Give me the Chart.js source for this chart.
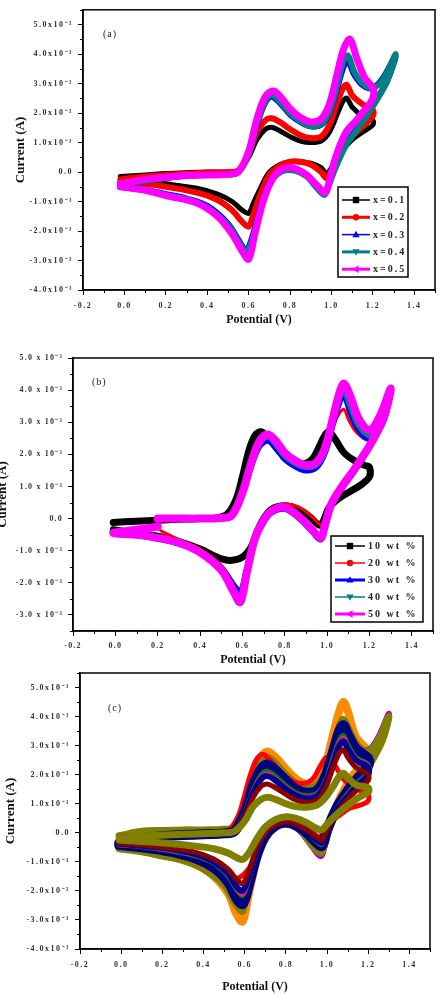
<!DOCTYPE html>
<html><head><meta charset="utf-8">
<script src="https://cdn.jsdelivr.net/npm/chart.js@4.4.1/dist/chart.umd.min.js"></script>
<style>
html,body{margin:0;padding:0;background:#fff;width:440px;height:994px;overflow:hidden;position:relative}
canvas{position:absolute;left:0}
</style></head><body>
<canvas id="ca" width="440" height="330" style="top:0px"></canvas>
<canvas id="cb" width="440" height="340" style="top:330px"></canvas>
<canvas id="cc" width="440" height="334" style="top:660px"></canvas>
<script>
// ---------- DATA (current in units of 1e-3 A, potential in V) ----------
// Panel (a)
const legendA = ['x=0.1', 'x=0.2', 'x=0.3', 'x=0.4', 'x=0.5'];
const potA_short = [-0.02, 0.1, 0.2, 0.3, 0.4, 0.5, 0.55, 0.6, 0.64, 0.68, 0.71, 0.75, 0.8, 0.85, 0.9, 0.95, 0.99, 1.03, 1.06, 1.075, 1.1, 1.15, 1.2,
  1.2, 1.15, 1.1, 1.05, 1.0, 0.975, 0.95, 0.9, 0.85, 0.8, 0.75, 0.7, 0.66, 0.62, 0.6, 0.57, 0.52, 0.45, 0.35, 0.2, 0.1, -0.02];
const potA_long = [-0.02, 0.1, 0.2, 0.3, 0.4, 0.5, 0.55, 0.6, 0.64, 0.68, 0.71, 0.75, 0.8, 0.85, 0.9, 0.95, 0.99, 1.03, 1.06, 1.08, 1.11, 1.15, 1.2, 1.25, 1.31,
  1.27, 1.22, 1.17, 1.12, 1.07, 1.02, 0.985, 0.965, 0.93, 0.88, 0.82, 0.76, 0.71, 0.67, 0.63, 0.6, 0.585, 0.56, 0.5, 0.4, 0.3, 0.2, 0.1, -0.02];
const potA_mag = [-0.02, 0.1, 0.2, 0.3, 0.4, 0.5, 0.55, 0.6, 0.64, 0.68, 0.72, 0.76, 0.8, 0.85, 0.9, 0.95, 0.99, 1.03, 1.06, 1.09, 1.12, 1.16, 1.2,
  1.2, 1.16, 1.12, 1.07, 1.02, 0.99, 0.97, 0.93, 0.87, 0.8, 0.75, 0.71, 0.67, 0.63, 0.6, 0.57, 0.52, 0.45, 0.35, 0.2, 0.1, -0.02];
const curA_x01 = [-0.15, -0.1, -0.05, -0.02, 0.0, 0.0, 0.05, 0.5, 1.1, 1.45, 1.52, 1.4, 1.2, 1.05, 1.0, 1.05, 1.35, 2.0, 2.45, 2.5, 2.2, 1.9, 1.75,
  1.6, 1.35, 1.1, 0.7, 0.15, -0.05, 0.15, 0.3, 0.35, 0.35, 0.25, 0.0, -0.5, -1.1, -1.4, -1.3, -1.0, -0.75, -0.55, -0.4, -0.33, -0.3];
const curA_x02 = [-0.25, -0.15, -0.1, -0.05, -0.02, 0.0, 0.05, 0.6, 1.35, 1.75, 1.82, 1.7, 1.45, 1.25, 1.15, 1.2, 1.6, 2.4, 2.9, 2.95, 2.6, 2.3, 2.1,
  1.9, 1.55, 1.2, 0.75, 0.05, -0.2, 0.0, 0.25, 0.35, 0.35, 0.2, -0.1, -0.7, -1.5, -1.85, -1.7, -1.3, -0.95, -0.7, -0.5, -0.4, -0.35];
const curA_x03 = [-0.45, -0.3, -0.2, -0.12, -0.1, -0.08, 0.0, 0.6, 1.6, 2.35, 2.55, 2.35, 1.95, 1.7, 1.55, 1.6, 2.0, 2.9, 3.6, 3.75, 3.3, 2.95, 2.85, 3.2, 3.95,
  3.1, 2.5, 1.95, 1.45, 0.95, 0.2, -0.45, -0.75, -0.5, -0.1, 0.08, 0.05, -0.25, -0.9, -1.9, -2.55, -2.65, -2.4, -1.75, -1.15, -0.9, -0.75, -0.6, -0.5];
const curA_x04 = [-0.45, -0.3, -0.2, -0.12, -0.1, -0.08, 0.0, 0.6, 1.65, 2.4, 2.6, 2.4, 2.0, 1.72, 1.55, 1.62, 2.05, 3.0, 3.8, 3.95, 3.4, 3.0, 2.85, 3.15, 4.0,
  3.1, 2.45, 1.9, 1.4, 0.9, 0.15, -0.5, -0.78, -0.55, -0.15, 0.05, 0.02, -0.3, -0.95, -2.0, -2.6, -2.7, -2.45, -1.8, -1.2, -0.92, -0.78, -0.62, -0.5];
const curA_x05 = [-0.4, -0.25, -0.18, -0.12, -0.1, -0.08, 0.0, 0.7, 1.8, 2.55, 2.75, 2.5, 2.15, 1.85, 1.7, 1.8, 2.3, 3.4, 4.2, 4.5, 3.9, 3.2, 2.85,
  2.5, 2.1, 1.75, 1.35, 0.5, -0.3, -0.7, -0.45, -0.05, 0.15, 0.05, -0.3, -1.0, -2.1, -2.95, -2.7, -2.1, -1.5, -1.05, -0.8, -0.62, -0.5];

// Panel (b)
const legendB = ['10 wt %', '20 wt %', '30 wt %', '40 wt %', '50 wt %'];
const potB_10 = [-0.01, 0.1, 0.2, 0.3, 0.4, 0.48, 0.53, 0.57, 0.6, 0.63, 0.66, 0.69, 0.73, 0.78, 0.84, 0.89, 0.93, 0.96, 0.99, 1.01, 1.04, 1.08, 1.13, 1.18, 1.2,
  1.2, 1.16, 1.11, 1.06, 1.01, 0.98, 0.96, 0.92, 0.86, 0.8, 0.74, 0.7, 0.67, 0.64, 0.6, 0.55, 0.5, 0.4, 0.3, 0.2, 0.1, -0.01];
const potB_20 = [0.2, 0.3, 0.4, 0.5, 0.55, 0.6, 0.64, 0.68, 0.72, 0.76, 0.8, 0.85, 0.9, 0.95, 0.99, 1.03, 1.06, 1.08, 1.1, 1.13, 1.17, 1.2,
  1.2, 1.16, 1.11, 1.06, 1.01, 0.99, 0.97, 0.93, 0.87, 0.8, 0.74, 0.7, 0.66, 0.62, 0.59, 0.56, 0.5, 0.4, 0.3, 0.22, 0.2];
const potB_long = [0.2, 0.3, 0.4, 0.5, 0.55, 0.6, 0.64, 0.68, 0.72, 0.76, 0.8, 0.85, 0.9, 0.95, 0.99, 1.03, 1.06, 1.08, 1.11, 1.15, 1.2, 1.25, 1.3,
  1.27, 1.22, 1.17, 1.12, 1.07, 1.02, 0.99, 0.97, 0.93, 0.87, 0.8, 0.74, 0.7, 0.66, 0.62, 0.59, 0.56, 0.5, 0.4, 0.3, 0.2, 0.1, -0.01, 0.1, 0.2];
const curB_10 = [-0.12, -0.08, -0.05, -0.02, 0.0, 0.02, 0.15, 0.6, 1.3, 2.1, 2.6, 2.7, 2.45, 2.05, 1.75, 1.7, 1.85, 2.2, 2.6, 2.7, 2.45, 2.05, 1.8, 1.65, 1.6,
  1.3, 1.05, 0.85, 0.65, 0.35, -0.1, -0.2, 0.05, 0.3, 0.4, 0.3, 0.0, -0.4, -0.9, -1.2, -1.3, -1.25, -0.95, -0.72, -0.55, -0.45, -0.35];
const curB_20 = [-0.05, -0.02, 0.0, 0.02, 0.1, 0.9, 1.8, 2.45, 2.6, 2.35, 2.0, 1.75, 1.62, 1.7, 2.1, 2.9, 3.3, 3.4, 3.1, 2.75, 2.5, 2.4,
  2.3, 1.9, 1.4, 1.0, 0.4, -0.05, -0.2, 0.05, 0.35, 0.45, 0.3, 0.0, -0.6, -1.6, -2.2, -2.0, -1.45, -0.95, -0.65, -0.4, -0.3];
const curB_30 = [0.0, 0.0, 0.0, 0.02, 0.1, 0.8, 1.6, 2.25, 2.42, 2.2, 1.85, 1.62, 1.5, 1.6, 2.05, 3.0, 3.65, 3.85, 3.3, 2.75, 2.5, 3.0, 3.95,
  3.1, 2.45, 1.9, 1.4, 0.95, 0.4, -0.25, -0.65, -0.4, 0.0, 0.3, 0.2, -0.1, -0.65, -1.6, -2.3, -2.1, -1.55, -1.05, -0.78, -0.62, -0.52, -0.45, -0.35, -0.25];
const curB_40 = [0.0, 0.0, 0.0, 0.02, 0.1, 0.8, 1.65, 2.35, 2.55, 2.3, 1.95, 1.72, 1.6, 1.68, 2.1, 3.1, 3.8, 4.0, 3.5, 2.9, 2.6, 3.1, 4.0,
  3.15, 2.5, 1.92, 1.42, 0.98, 0.42, -0.22, -0.65, -0.38, 0.02, 0.32, 0.22, -0.08, -0.62, -1.65, -2.5, -2.2, -1.6, -1.05, -0.76, -0.62, -0.52, -0.46, -0.35, -0.25];
const curB_50 = [0.0, 0.0, 0.0, 0.02, 0.1, 0.8, 1.7, 2.4, 2.62, 2.4, 2.05, 1.8, 1.66, 1.75, 2.2, 3.2, 3.95, 4.2, 3.8, 3.1, 2.75, 3.2, 4.05,
  3.2, 2.5, 1.95, 1.45, 1.0, 0.45, -0.2, -0.6, -0.35, 0.05, 0.35, 0.25, -0.05, -0.6, -1.7, -2.6, -2.3, -1.6, -1.05, -0.75, -0.6, -0.5, -0.45, -0.35, -0.25];

// Panel (c)
const potC_short = [-0.01, 0.1, 0.2, 0.3, 0.4, 0.5, 0.55, 0.6, 0.64, 0.68, 0.71, 0.75, 0.8, 0.85, 0.9, 0.95, 0.99, 1.03, 1.06, 1.08, 1.1, 1.14, 1.2,
  1.2, 1.15, 1.1, 1.05, 1.0, 0.975, 0.95, 0.9, 0.85, 0.8, 0.75, 0.7, 0.66, 0.62, 0.59, 0.56, 0.52, 0.45, 0.35, 0.2, 0.1, -0.01];
const potC_long = [-0.01, 0.1, 0.2, 0.3, 0.4, 0.5, 0.55, 0.6, 0.64, 0.68, 0.71, 0.75, 0.8, 0.85, 0.9, 0.95, 0.99, 1.03, 1.06, 1.08, 1.11, 1.15, 1.2, 1.25, 1.3,
  1.27, 1.22, 1.17, 1.12, 1.07, 1.02, 0.99, 0.97, 0.93, 0.87, 0.8, 0.74, 0.7, 0.66, 0.62, 0.59, 0.56, 0.5, 0.4, 0.3, 0.2, 0.1, -0.01];
const potC_early = [-0.01, 0.1, 0.2, 0.3, 0.4, 0.48, 0.53, 0.57, 0.6, 0.63, 0.66, 0.69, 0.73, 0.78, 0.84, 0.89, 0.93, 0.96, 0.99, 1.01, 1.04, 1.08, 1.13, 1.18, 1.2,
  1.2, 1.16, 1.11, 1.06, 1.01, 0.98, 0.96, 0.92, 0.86, 0.8, 0.74, 0.7, 0.67, 0.64, 0.6, 0.55, 0.5, 0.4, 0.3, 0.2, 0.1, -0.01];
const curC_orange = [-0.35, -0.2, -0.12, -0.08, -0.05, 0.0, 0.1, 0.8, 1.9, 2.6, 2.8, 2.6, 2.2, 1.85, 1.68, 1.8, 2.3, 3.4, 4.2, 4.5, 4.2, 3.3, 2.8,
  2.5, 2.2, 1.7, 1.0, 0.0, -0.6, -0.5, -0.1, 0.2, 0.3, 0.2, -0.2, -0.9, -2.1, -3.05, -2.8, -2.1, -1.5, -1.05, -0.75, -0.6, -0.5];
const curC_purple = [-0.45, -0.3, -0.2, -0.12, -0.1, -0.05, 0.05, 0.7, 1.65, 2.35, 2.55, 2.35, 1.95, 1.68, 1.52, 1.62, 2.05, 2.95, 3.6, 3.8, 3.45, 3.0, 2.85, 3.3, 4.1,
  3.3, 2.6, 2.0, 1.5, 1.0, 0.3, -0.4, -0.8, -0.5, 0.05, 0.4, 0.3, -0.05, -0.65, -1.7, -2.6, -2.4, -1.75, -1.2, -0.92, -0.78, -0.62, -0.52];
const curC_olive1 = [-0.1, 0.05, 0.08, 0.1, 0.1, 0.12, 0.2, 0.9, 1.75, 2.4, 2.6, 2.4, 2.0, 1.7, 1.55, 1.65, 2.1, 3.0, 3.7, 3.9, 3.5, 3.0, 2.8, 3.2, 4.0,
  3.2, 2.5, 1.95, 1.45, 0.95, 0.3, -0.35, -0.7, -0.45, 0.1, 0.45, 0.35, 0.0, -0.6, -1.7, -2.7, -2.5, -1.8, -1.25, -0.95, -0.8, -0.65, -0.55];
const curC_red = [-0.15, -0.1, -0.06, -0.03, 0.0, 0.03, 0.15, 0.6, 1.3, 2.05, 2.55, 2.7, 2.45, 2.05, 1.75, 1.7, 1.85, 2.2, 2.55, 2.6, 2.3, 1.85, 1.55, 1.4, 1.35,
  1.1, 0.95, 0.85, 0.6, 0.35, 0.0, -0.15, 0.1, 0.35, 0.42, 0.3, 0.0, -0.45, -1.0, -1.4, -1.6, -1.5, -1.1, -0.8, -0.6, -0.48, -0.38];
const curC_navy1 = [-0.35, -0.2, -0.12, -0.08, -0.05, -0.02, 0.05, 0.7, 1.6, 2.2, 2.35, 2.15, 1.8, 1.5, 1.38, 1.45, 1.9, 2.8, 3.5, 3.7, 3.4, 2.9, 2.55,
  2.3, 1.9, 1.45, 0.9, 0.1, -0.45, -0.35, 0.0, 0.25, 0.35, 0.25, -0.1, -0.75, -1.8, -2.45, -2.25, -1.7, -1.2, -0.85, -0.6, -0.5, -0.42];
const curC_green = [-0.32, -0.2, -0.12, -0.07, -0.05, -0.02, 0.05, 0.65, 1.45, 2.0, 2.12, 1.95, 1.62, 1.38, 1.28, 1.35, 1.75, 2.6, 3.2, 3.35, 3.05, 2.6, 2.35,
  2.1, 1.75, 1.35, 0.85, 0.1, -0.4, -0.3, 0.05, 0.3, 0.38, 0.28, -0.05, -0.65, -1.6, -2.15, -1.95, -1.5, -1.05, -0.78, -0.58, -0.48, -0.42];
const curC_pink = [-0.3, -0.18, -0.1, -0.06, -0.04, -0.02, 0.05, 0.65, 1.4, 1.9, 2.02, 1.85, 1.55, 1.32, 1.22, 1.3, 1.7, 2.5, 3.1, 3.25, 2.95, 2.55, 2.3,
  2.05, 1.7, 1.3, 0.82, 0.1, -0.38, -0.28, 0.05, 0.3, 0.38, 0.28, -0.05, -0.62, -1.55, -2.1, -1.9, -1.45, -1.02, -0.75, -0.55, -0.46, -0.4];
const curC_navy2 = [-0.3, -0.18, -0.1, -0.06, -0.04, -0.02, 0.05, 0.6, 1.35, 1.85, 1.95, 1.8, 1.5, 1.28, 1.18, 1.25, 1.65, 2.4, 3.0, 3.15, 2.9, 2.5, 2.25,
  2.0, 1.65, 1.25, 0.8, 0.1, -0.35, -0.25, 0.05, 0.3, 0.35, 0.25, -0.05, -0.6, -1.5, -2.0, -1.85, -1.4, -1.0, -0.72, -0.52, -0.45, -0.38];
const curC_darkred = [-0.28, -0.17, -0.1, -0.06, -0.04, -0.02, 0.05, 0.55, 1.2, 1.6, 1.68, 1.55, 1.32, 1.12, 1.05, 1.12, 1.5, 2.25, 2.75, 2.85, 2.6, 2.25, 2.0,
  1.8, 1.5, 1.15, 0.7, 0.1, -0.25, -0.15, 0.1, 0.3, 0.38, 0.28, 0.0, -0.5, -1.3, -1.75, -1.6, -1.25, -0.9, -0.65, -0.5, -0.42, -0.36];
const curC_olive2 = [-0.2, -0.12, -0.08, -0.05, -0.03, 0.0, 0.05, 0.4, 0.9, 1.15, 1.22, 1.15, 1.0, 0.9, 0.88, 0.95, 1.2, 1.6, 1.95, 2.05, 1.9, 1.65, 1.55,
  1.4, 1.2, 0.95, 0.65, 0.3, 0.1, 0.15, 0.35, 0.5, 0.55, 0.45, 0.2, -0.2, -0.7, -0.92, -0.85, -0.7, -0.55, -0.45, -0.35, -0.3, -0.25];

// ---------- helpers ----------
const SERIF = "'Liberation Serif','Times New Roman',serif";
function pts(V, I) { const n = Math.min(V.length, I.length); const out = []; for (let k = 0; k < n; k++) out.push({x: V[k], y: I[k]}); return out; }

function marker(ctx, type, x, y, r, color) {
  ctx.fillStyle = color; ctx.beginPath();
  if (type === 'square') ctx.rect(x - r, y - r, 2 * r, 2 * r);
  else if (type === 'circle') ctx.arc(x, y, r, 0, Math.PI * 2);
  else if (type === 'up') { ctx.moveTo(x, y - r * 1.2); ctx.lineTo(x + r * 1.15, y + r * 0.8); ctx.lineTo(x - r * 1.15, y + r * 0.8); ctx.closePath(); }
  else if (type === 'down') { ctx.moveTo(x, y + r * 1.2); ctx.lineTo(x + r * 1.15, y - r * 0.8); ctx.lineTo(x - r * 1.15, y - r * 0.8); ctx.closePath(); }
  else if (type === 'left') { ctx.moveTo(x - r * 1.2, y); ctx.lineTo(x + r * 0.8, y - r * 1.15); ctx.lineTo(x + r * 0.8, y + r * 1.15); ctx.closePath(); }
  ctx.fill();
}

function framePlugin(o) {
  return {
    id: 'frame',
    beforeDraw(chart) {
      for (const s of Object.values(chart.scales)) {
        if (!s._ls) {
          const orig = s.drawLabels.bind(s);
          s.drawLabels = (ca) => { const c = chart.ctx; c.save(); c.letterSpacing = o.tickSpacing; orig(ca); c.restore(); };
          s._ls = true;
        }
      }
    },
    afterDraw(chart) {
      const ctx = chart.ctx, a = chart.chartArea, xs = chart.scales.x, ys = chart.scales.y;
      ctx.save();
      ctx.strokeStyle = '#000'; ctx.lineWidth = 1.5;
      ctx.strokeRect(a.left, a.top, a.right - a.left, a.bottom - a.top);
      ctx.lineWidth = 1; ctx.beginPath();
      for (let v = Math.ceil(ys.min * 2) / 2; v <= ys.max + 1e-9; v += 0.5) {
        if (Math.abs(v - Math.round(v)) < 1e-6) continue;
        const py = Math.round(ys.getPixelForValue(v)) + 0.5;
        ctx.moveTo(a.left - 3, py); ctx.lineTo(a.left, py);
      }
      for (let v = -0.1; v <= xs.max + 1e-9; v += 0.2) {
        const px = Math.round(xs.getPixelForValue(v)) + 0.5;
        ctx.moveTo(px, a.bottom); ctx.lineTo(px, a.bottom + 3);
      }
      ctx.stroke();
      // panel tag
      ctx.fillStyle = '#222'; ctx.font = '10px ' + SERIF; ctx.textAlign = 'left'; ctx.textBaseline = 'middle';
      ctx.letterSpacing = '1px';
      ctx.fillText(o.tag, a.left + o.tagDX, a.top + o.tagDY);
      // legend
      const L = o.legend;
      if (L) {
        const bx = a.right - L.dxRight, by = a.bottom - L.dyBottom;
        ctx.fillStyle = '#fff'; ctx.fillRect(bx, by, L.w, L.h);
        ctx.strokeStyle = '#000'; ctx.lineWidth = 1.5; ctx.strokeRect(bx, by, L.w, L.h);
        L.items.forEach((it, k) => {
          const yy = by + L.row0 + k * L.step;
          ctx.strokeStyle = it.c; ctx.lineWidth = it.lw; ctx.beginPath();
          ctx.moveTo(bx + 4, yy); ctx.lineTo(bx + 4 + L.lineLen, yy); ctx.stroke();
          marker(ctx, it.m, bx + 4 + L.lineLen / 2, yy, 3.2, it.c);
          ctx.fillStyle = '#222'; ctx.font = 'bold 10px ' + SERIF; ctx.letterSpacing = L.spacing;
          ctx.textAlign = 'left'; ctx.textBaseline = 'middle';
          ctx.fillText(it.label, bx + 4 + L.lineLen + 3, yy + 0.5);
        });
      }
      ctx.restore();
    }
  };
}

function makeChart(id, o) {
  const n = o.series.length;
  const datasets = o.series.map((s, k) => ({
    data: pts(s.v, s.i), borderColor: s.c, backgroundColor: s.c, borderWidth: s.w, order: n - k,
    showLine: true, pointRadius: 0, pointHoverRadius: 0, tension: 0.35, fill: false,
    borderCapStyle: 'round', borderJoinStyle: 'round'
  }));
  const tickFont = {family: SERIF, size: 8, weight: 'bold'};
  return new Chart(document.getElementById(id), {
    type: 'scatter',
    data: {datasets},
    options: {
      responsive: false, animation: false, devicePixelRatio: 1, events: [],
      layout: {padding: o.pad},
      plugins: {legend: {display: false}, tooltip: {enabled: false}},
      scales: {
        x: {
          type: 'linear', min: -0.2, max: 1.5,
          afterFit: s => { s.height = o.xH; },
          ticks: {stepSize: 0.2, includeBounds: false, padding: o.xTickPad, font: tickFont, color: '#333', maxRotation: 0, autoSkip: false,
                  callback: v => (Math.abs(v) < 1e-9 ? 0 : v).toFixed(1)},
          grid: {drawOnChartArea: false, tickLength: 5, tickColor: '#000', tickWidth: 1},
          border: {color: '#000', width: 1.5},
          title: {display: true, text: 'Potential (V)', color: '#111', font: {family: SERIF, size: 12, weight: 'bold'},
                  padding: {top: 0, bottom: o.xTitlePad}}
        },
        y: {
          type: 'linear', min: o.yMin, max: o.yMax,
          afterFit: s => { s.width = o.yW; },
          ticks: {stepSize: 1, includeBounds: false, padding: o.yTickPad, font: tickFont, color: '#333',
                  callback: v => Math.abs(v) < 1e-9 ? '0.0' : v.toFixed(1) + o.expo},
          grid: {drawOnChartArea: false, tickLength: 5, tickColor: '#000', tickWidth: 1},
          border: {color: '#000', width: 1.5},
          title: {display: true, text: 'Current (A)', color: '#111', font: {family: SERIF, size: 13, weight: 'bold'},
                  padding: {top: o.yTitlePad, bottom: 0}}
        }
      }
    },
    plugins: [framePlugin(o)]
  });
}

const legendStyle = [
  {c: '#000000', m: 'square'}, {c: '#ff0000', m: 'circle'}, {c: '#0000ff', m: 'up'}, {c: '#008080', m: 'down'}, {c: '#ff00ff', m: 'left'}
];

// Panel (a)
makeChart('ca', {
  pad: {top: 7, right: 5, left: 0, bottom: 0}, xH: 40, yW: 83, yMin: -4, yMax: 5.5,
  xTickPad: 6, yTickPad: 5, xTitlePad: 3, yTitlePad: 13, expo: 'x10⁻³', tickSpacing: '1.5px',
  tag: '(a)', tagDX: 20, tagDY: 25,
  series: [
    {v: potA_short, i: curA_x01, c: '#000000', w: 5},
    {v: potA_short, i: curA_x02, c: '#ff0000', w: 6},
    {v: potA_long, i: curA_x03, c: '#0000ff', w: 6},
    {v: potA_long, i: curA_x04, c: '#008080', w: 6},
    {v: potA_mag, i: curA_x05, c: '#ff00ff', w: 7}
  ],
  legend: {dxRight: 97, dyBottom: 103, w: 70, h: 90, row0: 13, step: 17.3, lineLen: 28, spacing: '2px',
           items: legendA.map((t, k) => ({label: t, c: legendStyle[k].c, m: legendStyle[k].m, lw: [1.5, 3, 1.5, 3, 3][k]}))}
});

// Panel (b)
makeChart('cb', {
  pad: {top: 28, right: 7, left: 0, bottom: 0}, xH: 39, yW: 73, yMin: -3.5, yMax: 5.0,
  xTickPad: 5, yTickPad: 5, xTitlePad: 3, yTitlePad: -5, expo: ' x 10⁻³', tickSpacing: '1.2px',
  tag: '(b)', tagDX: 19, tagDY: 24,
  series: [
    {v: potB_10, i: curB_10, c: '#000000', w: 7},
    {v: potB_20, i: curB_20, c: '#ff0000', w: 3},
    {v: potB_long, i: curB_30, c: '#0000ff', w: 6},
    {v: potB_long, i: curB_40, c: '#008080', w: 6},
    {v: potB_long, i: curB_50, c: '#ff00ff', w: 8}
  ],
  legend: {dxRight: 102, dyBottom: 95, w: 92, h: 86, row0: 10, step: 17, lineLen: 30, spacing: '2px',
           items: legendB.map((t, k) => ({label: t, c: legendStyle[k].c, m: legendStyle[k].m, lw: [1.5, 1.5, 3, 1.5, 3][k]}))}
});

// Panel (c)
makeChart('cc', {
  pad: {top: 13, right: 10, left: 0, bottom: 0}, xH: 45, yW: 80, yMin: -4, yMax: 5.5,
  xTickPad: 6, yTickPad: 5, xTitlePad: 0, yTitlePad: 3, expo: 'x10⁻³', tickSpacing: '1.5px',
  tag: '(c)', tagDX: 28, tagDY: 35,
  series: [
    {v: potC_short, i: curC_orange, c: '#ff8c00', w: 8},
    {v: potC_long, i: curC_purple, c: '#b000c0', w: 6},
    {v: potC_long, i: curC_olive1, c: '#808000', w: 7},
    {v: potC_early, i: curC_red, c: '#ff0000', w: 5},
    {v: potC_short, i: curC_navy1, c: '#000080', w: 10},
    {v: potC_short, i: curC_green, c: '#008000', w: 5},
    {v: potC_short, i: curC_pink, c: '#ff1493', w: 5},
    {v: potC_short, i: curC_navy2, c: '#000090', w: 6},
    {v: potC_short, i: curC_darkred, c: '#8b0000', w: 5},
    {v: potC_short, i: curC_olive2, c: '#808000', w: 7}
  ]
});
</script>
</body></html>
